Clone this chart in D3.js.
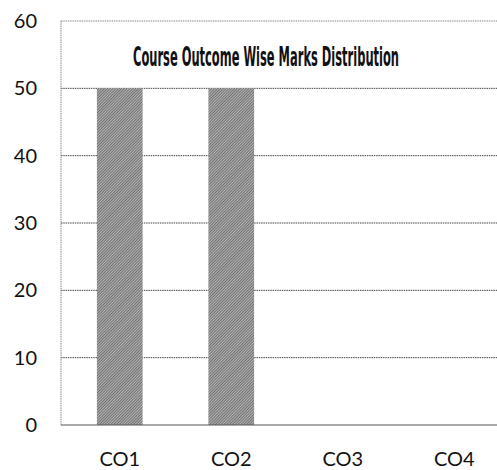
<!DOCTYPE html>
<html>
<head>
<meta charset="utf-8">
<script src="https://d3js.org/d3.v7.min.js"></script>
<style>
  body { margin: 0; background: #fff; }
  svg text { font-family: Lato, "Open Sans", sans-serif; fill: #111; }
</style>
</head>
<body>
<div id="chart"></div>
<script>
// chart values
var categories = ["CO1", "CO2", "CO3", "CO4"];
var marks = [50, 50, 0, 0];
var yTicks = [0, 10, 20, 30, 40, 50, 60];
var title = "Course Outcome Wise Marks Distribution";

var width = 497, height = 470;
var plot = {left: 61, top: 21, bottom: 425};

var svg = d3.select("#chart")
  .append("svg")
  .attr("width", width)
  .attr("height", height);

// fine hatch texture for the bars, like the scanned print
var pat = svg.append("defs").append("pattern")
  .attr("id", "hatch")
  .attr("patternUnits", "userSpaceOnUse")
  .attr("width", 2).attr("height", 2)
  .attr("patternTransform", "rotate(45)");
pat.append("rect").attr("width", 2).attr("height", 2).attr("fill", "#b4b4b4");
pat.append("rect").attr("width", 1).attr("height", 2).attr("fill", "#707070");

var x = d3.scaleBand()
  .domain(categories)
  .range([64, 510])
  .paddingInner(0.59)
  .paddingOuter(0.295);

var y = d3.scaleLinear()
  .domain([0, 60])
  .range([plot.bottom, plot.top]);

// gridlines
svg.append("g")
  .selectAll("line")
  .data(yTicks.filter(function(d) { return d > 0; }))
  .enter()
  .append("line")
  .attr("x1", plot.left)
  .attr("x2", width)
  .attr("y1", function(d) { return y(d); })
  .attr("y2", function(d) { return y(d); })
  .attr("stroke", function(d) { return d == 60 ? "#888" : "#444"; })
  .attr("stroke-dasharray", "1.5,0.8")
  .attr("stroke-width", 1);

// left border
svg.append("line")
  .attr("x1", plot.left).attr("x2", plot.left)
  .attr("y1", plot.top).attr("y2", plot.bottom)
  .attr("stroke", "#888")
  .attr("stroke-dasharray", "1.5,0.8");

// bars
svg.selectAll(".bar")
  .data(marks)
  .enter()
  .append("rect")
  .attr("class", "bar")
  .attr("x", function(d, i) { return x(categories[i]); })
  .attr("width", x.bandwidth())
  .attr("y", function(d) { return y(d); })
  .attr("height", function(d) { return plot.bottom - y(d); })
  .style("fill", "url(#hatch)");

// base line
svg.append("line")
  .attr("x1", plot.left).attr("x2", width)
  .attr("y1", plot.bottom).attr("y2", plot.bottom)
  .attr("stroke", "#555")
  .attr("stroke-width", 1);

// y axis labels
svg.append("g")
  .attr("transform", "translate(37,0)")
  .call(d3.axisLeft(y).tickValues(yTicks).tickSize(0).tickPadding(0))
  .call(function(g) { g.select(".domain").remove(); })
  .selectAll("text")
  .style("font-size", "20px")
  .style("font-family", "Lato, 'Open Sans', sans-serif")
  .attr("fill", "#111");

// x axis labels
svg.append("g")
  .attr("transform", "translate(0," + plot.bottom + ")")
  .call(d3.axisBottom(x).tickSize(0).tickPadding(27))
  .call(function(g) { g.select(".domain").remove(); })
  .selectAll("text")
  .style("font-size", "20px")
  .style("font-family", "Lato, 'Open Sans', sans-serif")
  .attr("fill", "#111");

// title
svg.append("text")
  .attr("x", 133)
  .attr("y", 66)
  .attr("textLength", 266)
  .attr("lengthAdjust", "spacingAndGlyphs")
  .style("font-family", "'DejaVu Sans Condensed', 'Liberation Sans Narrow', sans-serif")
  .style("font-weight", "bold")
  .style("font-size", "27px")
  .text(title);
</script>
</body>
</html>
